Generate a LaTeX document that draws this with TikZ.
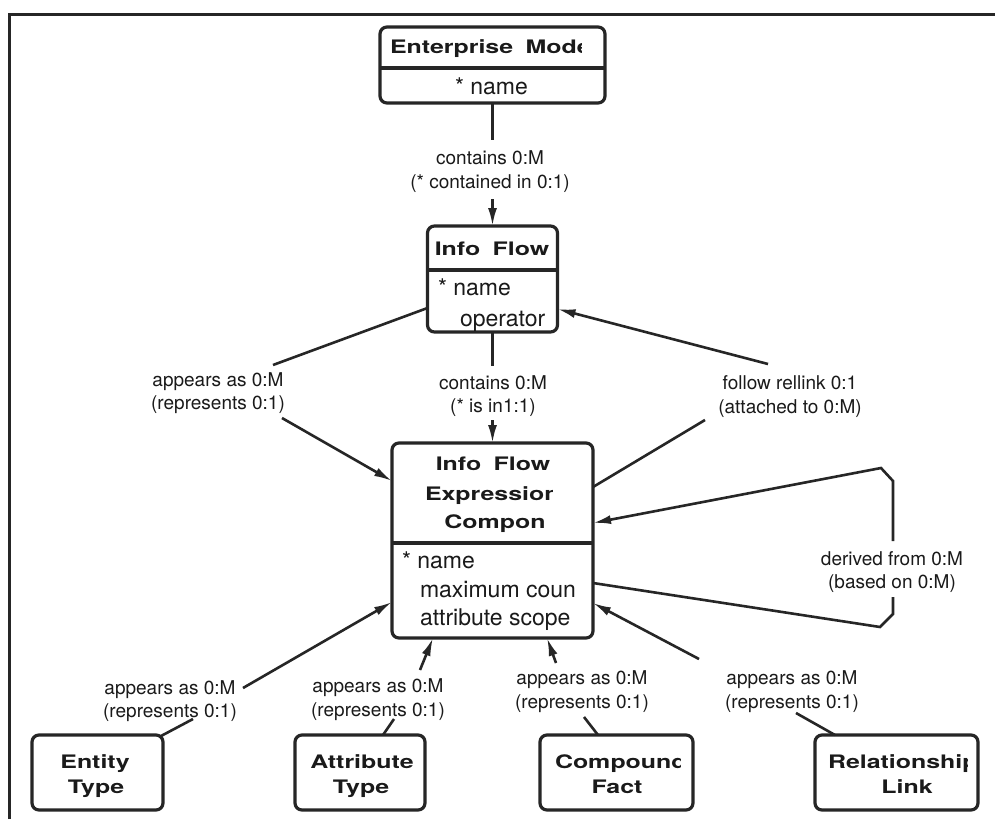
\documentclass[tikz,border=0pt]{standalone}
\usepackage{fontspec}
\setmainfont{TeX Gyre Heros}
\newfontfamily\wideface{TeX Gyre Heros}[FakeStretch=1.34,WordSpace=1.8]
\usetikzlibrary{arrows.meta}
\definecolor{ink}{HTML}{262626}
\definecolor{txt}{HTML}{1A1A1A}
\begin{document}
\begin{tikzpicture}[x=1pt,y=-1pt,
  every node/.style={text=txt, inner sep=0pt, outer sep=0pt},
  entbox/.style={draw=ink, line width=3.2, rounded corners=7, fill=none},
  divider/.style={draw=ink, line width=3.2},
  ttl/.style={font=\wideface\bfseries\fontsize{18.6}{22}\selectfont},
  attr/.style={font=\fontsize{23}{28}\selectfont, anchor=base west},
  lbl/.style={font=\fontsize{19}{23.5}\selectfont, align=center},
  edge/.style={draw=ink, line width=2.6},
  arr/.style={-{Latex[length=18pt,width=9pt]}},
  frameline/.style={draw=ink, line width=3}
]
\fill[white] (0,0) rectangle (995,819);
\useasboundingbox (0,0) rectangle (995,819);

% outer frame (top and left rules)
\draw[frameline] (9,819) -- (9,14) -- (995,14);

% ---------------- entity boxes ----------------
\node[entbox, minimum width=225, minimum height=76] (em) at (492.5,65) {};
\draw[divider] (em.west |- 0,68) -- (em.east |- 0,68);
\node[ttl, anchor=base west] (emA) at (390,53) {Enterprise Mod};
\begin{scope}
  \clip (emA.base east) ++(0,-20) rectangle ++(5,30);
  \node[ttl, anchor=base west] (emB) at (emA.base east) {e};
\end{scope}
\node[attr] (emN) at (455,94) {* name};

\node[entbox, minimum width=130, minimum height=106] (ifw) at (492.5,279) {};
\draw[divider] (ifw.west |- 0,270) -- (ifw.east |- 0,270);
\node[ttl, anchor=base] (ifwT) at (492,255) {Info Flow};
\node[attr] (ifwN) at (438,295) {* name};
\node[attr] (ifwO) at (460,326) {operator};

\node[entbox, minimum width=201, minimum height=195] (ifec) at (492.5,540.5) {};
\draw[divider] (ifec.west |- 0,543) -- (ifec.east |- 0,543);
\node[ttl, anchor=base] (ifecT1) at (493,470) {Info Flow};
\node[ttl, anchor=base west] (ifecT2) at (425,500) {Expressio};
\begin{scope}
  \clip (ifecT2.base east) ++(0,-20) rectangle ++(8,30);
  \node[ttl, anchor=base west] (ifecT2b) at (ifecT2.base east) {n};
\end{scope}
\node[ttl, anchor=base] (ifecT3) at (495,528) {Compon};
\node[attr] (ifecA1) at (402,568) {* name};
\node[attr] (ifecA2) at (420,597) {maximum coun};
\node[attr] (ifecA3) at (420,625) {attribute scope};

\node[entbox, minimum width=131, minimum height=75] (ent) at (97.5,772.5) {};
\node[ttl, anchor=base] (entT1) at (95,768) {Entity};
\node[ttl, anchor=base] (entT2) at (96,793) {Type};

\node[entbox, minimum width=130, minimum height=75] (att) at (360,772.5) {};
\node[ttl, anchor=base] (attT1) at (362,768) {Attribute};
\node[ttl, anchor=base] (attT2) at (361,793) {Type};

\node[entbox, minimum width=153, minimum height=75] (cf) at (616.5,772.5) {};
\node[ttl, anchor=base west] (cfT1) at (555,768) {Compoun};
\begin{scope}
  \clip (cfT1.base east) ++(0,-20) rectangle ++(9,30);
  \node[ttl, anchor=base west] (cfT1b) at (cfT1.base east) {d};
\end{scope}
\node[ttl, anchor=base] (cfT2) at (617,793) {Fact};

\node[entbox, minimum width=163, minimum height=75] (rl) at (896.5,772.5) {};
\node[ttl, anchor=base west] (rlT1) at (828,768) {Relationshi};
\begin{scope}
  \clip (rlT1.base east) ++(0,-20) rectangle ++(5,30);
  \node[ttl, anchor=base west] (rlT1b) at (rlT1.base east) {p};
\end{scope}
\node[ttl, anchor=base] (rlT2) at (907,793) {Link};

% ---------------- relationship labels ----------------
\node[lbl] (l1) at (490,171.5) {contains 0:M\\(* contained in 0:1)};
\node[lbl] (l2) at (493,396) {contains 0:M\\(* is in1:1)};
\node[lbl] (l3) at (218,393) {appears as 0:M\\(represents 0:1)};
\node[lbl] (l4) at (790,396.5) {follow rellink 0:1\\(attached to 0:M)};
\node[lbl] (l5) at (892,572) {derived from 0:M\\(based on 0:M)};
\node[lbl] (l6) at (170,701) {appears as 0:M\\(represents 0:1)};
\node[lbl] (l7) at (378,699.5) {appears as 0:M\\(represents 0:1)};
\node[lbl] (l8) at (582,691.5) {appears as 0:M\\(represents 0:1)};
\node[lbl] (l9) at (792,691.5) {appears as 0:M\\(represents 0:1)};

% ---------------- connector break points ----------------
\coordinate (e1a) at (492.5,140);
\coordinate (e1b) at (492.5,199);
\coordinate (e2a) at (492.5,366);
\coordinate (e2b) at (492.5,420);
\coordinate (e3a) at (273,365);
\coordinate (e3b) at (282,418);
\coordinate (e4a) at (705,420);
\coordinate (e4b) at (768,364);
\coordinate (e5a) at (880,627);
\coordinate (e5b) at (893,614);
\coordinate (e5c) at (893,597);
\coordinate (e5d) at (893,541);
\coordinate (e5e) at (893,481);
\coordinate (e5f) at (881,468);
\coordinate (e6a) at (193,719);
\coordinate (e6b) at (243,688);
\coordinate (e7a) at (394,719);
\coordinate (e7b) at (420,670);
\coordinate (e8a) at (584,717);
\coordinate (e8b) at (556,663);
\coordinate (e9a) at (796,713);
\coordinate (e9b) at (699,659);

% ---------------- connectors ----------------
\draw[edge] (em.south) -- (e1a);
\draw[edge,arr] (e1b) -- (ifw.north);

\draw[edge] (ifw.south) -- (e2a);
\draw[edge,arr] (e2b) -- (ifec.north);

\draw[edge] (ifw.west |- 0,308) -- (e3a);
\draw[edge,arr] (e3b) -- (ifec.west |- 0,481);

\draw[edge] (ifec.east |- 0,487) -- (e4a);
\draw[edge,arr] (e4b) -- (ifw.east |- 0,309);

\draw[edge] (ifec.east |- 0,583) -- (e5a) -- (e5b) -- (e5c);
\draw[edge,arr] (e5d) -- (e5e) -- (e5f) -- (ifec.east |- 0,523);

\draw[edge] (ent.north east) ++(-2,1) -- (e6a);
\draw[edge,arr] (e6b) -- (ifec.west |- 0,602);

\draw[edge] (att.north -| 383,0) -- (e7a);
\draw[edge,arr] (e7b) -- (ifec.south -| 433,0);

\draw[edge] (cf.north -| 598,0) -- (e8a);
\draw[edge,arr] (e8b) -- (ifec.south -| 547,0);

\draw[edge] (rl.north -| 835,0) -- (e9a);
\draw[edge,arr] (e9b) -- (ifec.east |- 0,603);
\end{tikzpicture}
\end{document}
